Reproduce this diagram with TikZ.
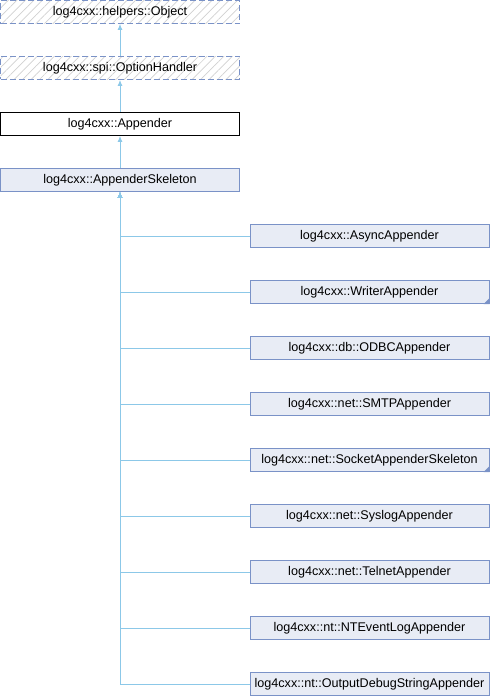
\documentclass[tikz,border=0pt]{standalone}
\usepackage{fontspec}
\setmainfont{Liberation Sans}
\usepackage{tikz}
\usetikzlibrary{arrows.meta, positioning, patterns.meta}

\definecolor{boxline}{HTML}{7A92C7}
\definecolor{boxfill}{HTML}{E8ECF5}
\definecolor{edgeline}{HTML}{8CC8E8}

\begin{document}
\begin{tikzpicture}[x=1pt, y=-1pt, node distance=32pt, every node/.style={font=\fontsize{12.6}{14}\selectfont}]

\tikzstyle{classbox} = [rectangle, minimum width=239pt, minimum height=23pt, inner sep=0pt, text centered, draw=boxline, fill=boxfill, line width=1pt]
\tikzstyle{undoc} = [rectangle, minimum width=239pt, minimum height=23pt, inner sep=0pt, text centered, draw=boxline, dash pattern=on 6pt off 3pt, line width=1pt, pattern={Lines[angle=45, distance=6pt, line width=0.7pt]}, pattern color=black!18]
\tikzstyle{current} = [rectangle, minimum width=239pt, minimum height=23pt, inner sep=0pt, text centered, draw=black, fill=white, line width=1pt]
\tikzstyle{inherit} = [edgeline, line width=1pt, -{Latex[length=6pt, width=5pt]}]
\tikzstyle{more} = [fill=boxline, draw=none]

\useasboundingbox (0,0) rectangle (490,696);

% Base classes
\node (object) [undoc] at (120,12) {log4cxx::helpers::Object};
\node (handler) [undoc, below=of object] {log4cxx::spi::OptionHandler};
\node (appender) [current, below=of handler] {log4cxx::Appender};
\node (skeleton) [classbox, below=of appender] {log4cxx::AppenderSkeleton};

% Derived classes
\node (async) [classbox] at (369.5,236) {log4cxx::AsyncAppender};
\node (writer) [classbox, below=of async] {log4cxx::WriterAppender};
\node (odbc) [classbox, below=of writer] {log4cxx::db::ODBCAppender};
\node (smtp) [classbox, below=of odbc] {log4cxx::net::SMTPAppender};
\node (socket) [classbox, below=of smtp] {log4cxx::net::SocketAppenderSkeleton};
\node (syslog) [classbox, below=of socket] {log4cxx::net::SyslogAppender};
\node (telnet) [classbox, below=of syslog] {log4cxx::net::TelnetAppender};
\node (ntevent) [classbox, below=of telnet] {log4cxx::nt::NTEventLogAppender};
\node (debugstr) [classbox, below=of ntevent] {log4cxx::nt::OutputDebugStringAppender};

% Corner marks
\fill [more] (writer.south east) -- ++(-6,0) -- ++(6,-6) -- cycle;
\fill [more] (socket.south east) -- ++(-6,0) -- ++(6,-6) -- cycle;

% Arrows
\draw [inherit] (handler) -- (object);
\draw [inherit] (appender) -- (handler);
\draw [inherit] (skeleton) -- (appender);
\foreach \child in {async, writer, odbc, smtp, socket, syslog, telnet, ntevent, debugstr}
  \draw [inherit] (\child.west) -| (skeleton.south);

\end{tikzpicture}
\end{document}
